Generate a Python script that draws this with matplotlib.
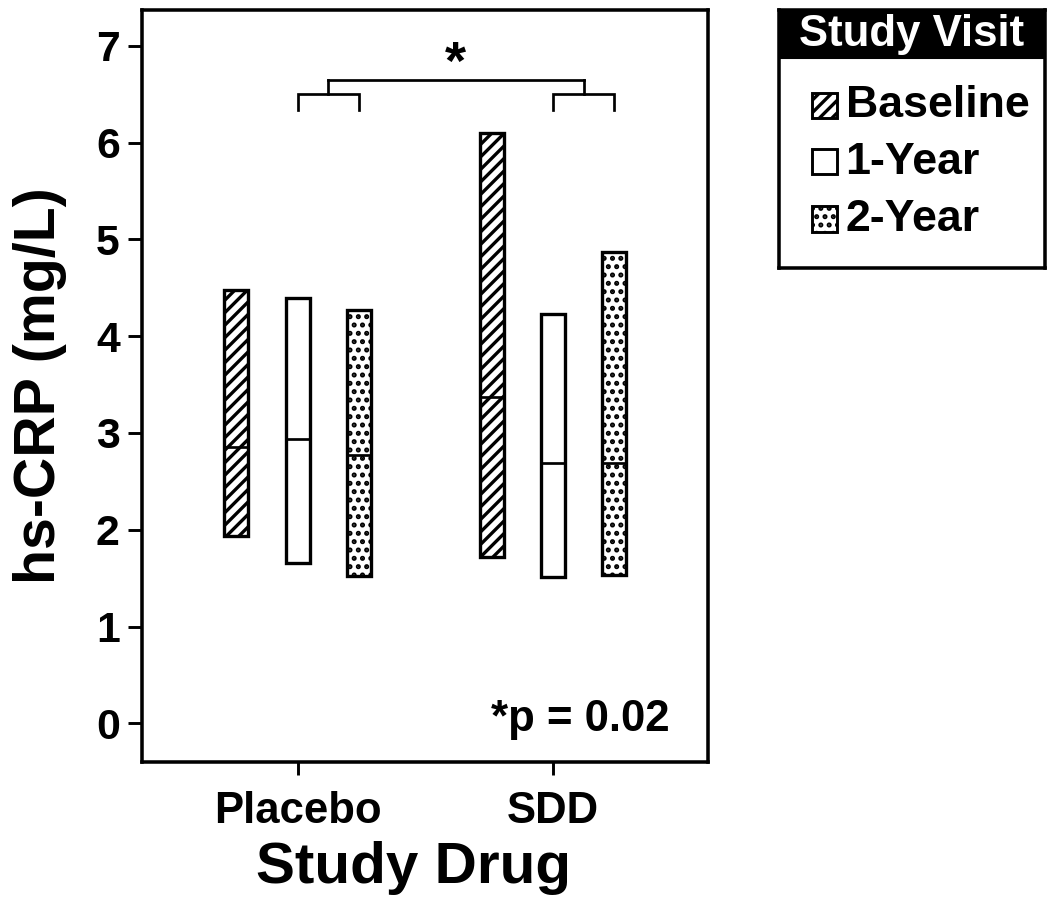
import numpy as np
import matplotlib
matplotlib.use('Agg')
import matplotlib.pyplot as plt
from matplotlib.patches import Rectangle

plt.rcParams['font.family'] = ['Liberation Sans', 'DejaVu Sans']
plt.rcParams['font.weight'] = 'bold'
plt.rcParams['hatch.linewidth'] = 1.6

# groups on the x axis and the three visits
groups = ['Placebo', 'SDD']
visits = ['Baseline', '1-Year', '2-Year']
hatches = ['////', '', '...']
# floating bars: min, median, max (rows = visits, cols = groups)
lows = [[1.94, 1.72], [1.66, 1.51], [1.52, 1.53]]
meds = [[2.86, 3.37], [2.94, 2.69], [2.77, 2.69]]
highs = [[4.48, 6.10], [4.39, 4.23], [4.27, 4.87]]
yticks = [0, 1, 2, 3, 4, 5, 6, 7]

fig = plt.figure(figsize=(7, 6), dpi=150)
ax = fig.add_axes([0.1352, 0.1533, 0.6743 - 0.1352, 0.9889 - 0.1533])

x = np.arange(len(groups))
offset = 0.24
w = 0.094
for i, v in enumerate(visits):
    xi = x + (i - 1) * offset
    lo = np.array(lows[i])
    hi = np.array(highs[i])
    ax.bar(xi, hi - lo, bottom=lo, width=w, facecolor='white', edgecolor='black',
           hatch=hatches[i], linewidth=1.6, zorder=2)
    ax.hlines(meds[i], xi - w / 2, xi + w / 2, color='black', linewidth=1.3, zorder=3)

# significance brackets (1-Year vs 2-Year in each group)
lw = 1.3
mids = []
for g in x:
    a, b = g, g + offset
    ax.plot([a, a, b, b], [6.34, 6.50, 6.50, 6.34], color='black', lw=lw,
            solid_joinstyle='miter', clip_on=False)
    m = (a + b) / 2
    mids.append(m)
    ax.plot([m, m], [6.50, 6.65], color='black', lw=lw)
ax.plot([mids[0], mids[1]], [6.65, 6.65], color='black', lw=lw, solid_capstyle='projecting')
ax.text(np.mean(mids), 6.80, '*', ha='center', va='center', fontsize=26, fontweight='bold')
ax.text(0.933, 0.056, '*p = 0.02', transform=ax.transAxes, ha='right', va='center',
        fontsize=21, fontweight='bold')

ax.set_xlim(-0.609, 1.607)
ax.set_ylim(-0.40, 7.37)
ax.set_yticks(yticks)
ax.set_xticks(x)
ax.set_xticklabels(groups)
for s in ax.spines.values():
    s.set_linewidth(1.7)
ax.tick_params(axis='y', direction='out', length=6.7, width=1.4, pad=4, labelsize=20.5)
ax.tick_params(axis='x', direction='out', length=6, width=1.4, pad=8, labelsize=21)
ax.set_xlabel('Study Drug', fontsize=28, fontweight='bold', labelpad=2)
ax.xaxis.set_label_coords(0.48, -0.105)
ax.set_ylabel('hs-CRP (mg/L)', fontsize=27.5, fontweight='bold', labelpad=14)

# legend box
lax = fig.add_axes([0.742, 0.702, 0.995 - 0.742, 0.989 - 0.702])
lax.set_xlim(0, 1)
lax.set_ylim(0, 1)
lax.set_xticks([])
lax.set_yticks([])
for s in lax.spines.values():
    s.set_linewidth(1.7)
lax.add_patch(Rectangle((0, 0.815), 1, 0.185, facecolor='black', edgecolor='black'))
lax.text(0.5, 0.905, 'Study Visit', color='white', ha='center', va='center',
         fontsize=21, fontweight='bold')
ys = [0.628, 0.411, 0.19]
for i, v in enumerate(visits):
    lax.add_patch(Rectangle((0.124, ys[i] - 0.048), 0.095, 0.097, facecolor='white',
                            edgecolor='black', hatch=hatches[i], linewidth=1.4))
    lax.text(0.25, ys[i], v, ha='left', va='center', fontsize=21.5, fontweight='bold')

fig.savefig('out.png', dpi=150, facecolor='white')
